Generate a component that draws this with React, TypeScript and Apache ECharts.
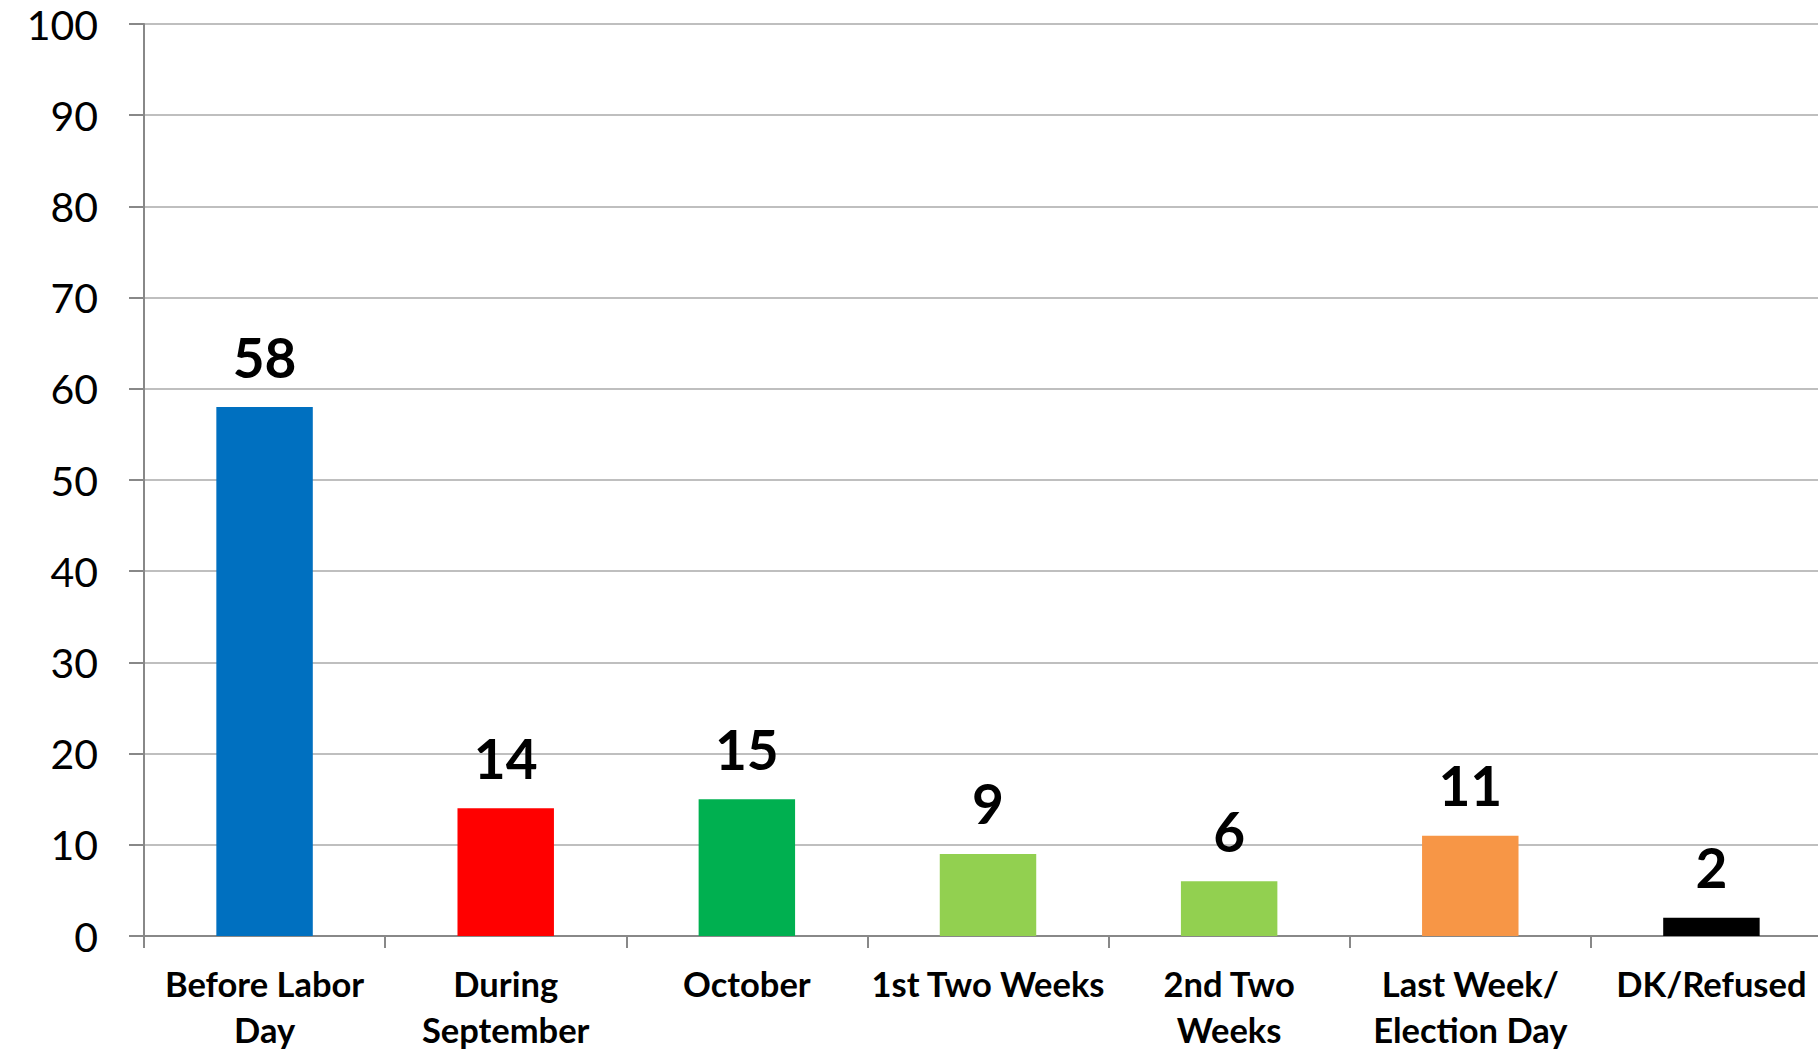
import React, { useEffect, useRef } from "react";
import * as echarts from "echarts";

const categories = [
  "Before Labor\nDay",
  "During\nSeptember",
  "October",
  "1st Two Weeks",
  "2nd Two\nWeeks",
  "Last Week/\nElection Day",
  "DK/Refused",
];
const values = [58, 14, 15, 9, 6, 11, 2];
const colors = ["#0070C0", "#FF0000", "#00B050", "#92D050", "#92D050", "#F79646", "#000000"];
const yTicks = { min: 0, max: 100, interval: 10 };

export default function App() {
  const ref = useRef<HTMLDivElement>(null);
  useEffect(() => {
    if (!ref.current) return;
    const chart = echarts.init(ref.current, null, { renderer: "svg" });
    chart.setOption({
      animation: false,
      grid: { left: 144, right: 0, top: 24, bottom: 116, containLabel: false },
      xAxis: {
        type: "category",
        data: categories,
        axisLine: { show: true, lineStyle: { color: "#888888", width: 2 } },
        axisTick: { show: true, length: 12, lineStyle: { color: "#888888", width: 2 } },
        axisLabel: {
          interval: 0,
          margin: 24,
          fontFamily: "Lato",
          fontWeight: "bold",
          fontSize: 34.5,
          lineHeight: 46,
          color: "#000000",
        },
      },
      yAxis: {
        type: "value",
        min: yTicks.min,
        max: yTicks.max,
        interval: yTicks.interval,
        axisLine: { show: true, lineStyle: { color: "#888888", width: 2 } },
        axisTick: { show: true, length: 15, lineStyle: { color: "#888888", width: 2 } },
        splitLine: { show: true, lineStyle: { color: "#BFBFBF", width: 2 } },
        axisLabel: {
          margin: 46,
          fontFamily: "Lato",
          fontSize: 41,
          color: "#000000",
        },
      },
      series: [
        {
          type: "bar",
          barWidth: "40%",
          data: values.map((v, i) => ({ value: v, itemStyle: { color: colors[i] } })),
          label: {
            show: true,
            position: "top",
            distance: 23,
            fontFamily: "Lato",
            fontWeight: "bold",
            fontSize: 55,
            color: "#000000",
          },
        },
      ],
    });
    return () => chart.dispose();
  }, []);
  return (
    <div style={{ width: 1818, height: 1052, position: "absolute", left: 0, top: 0, overflow: "hidden" }}>
      <div ref={ref} style={{ width: 1832, height: 1052 }} />
    </div>
  );
}
